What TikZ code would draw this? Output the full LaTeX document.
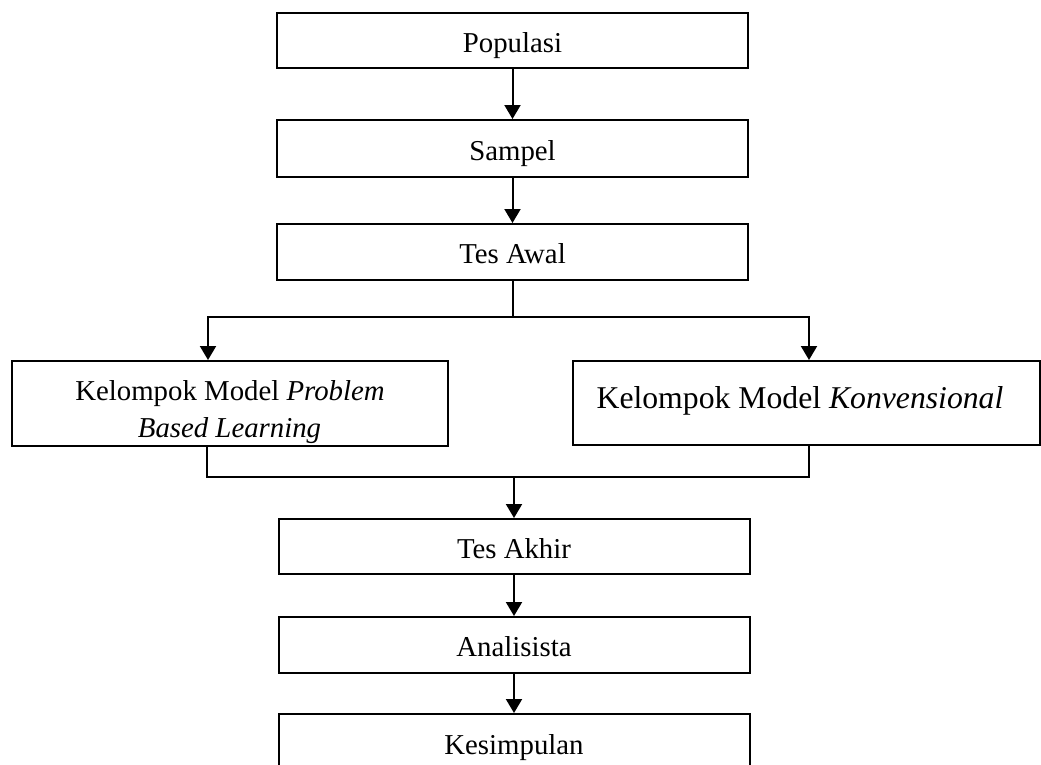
\documentclass[tikz,border=0pt]{standalone}
\usepackage{fontspec}
\setmainfont{Liberation Serif}
\usetikzlibrary{arrows.meta}
\begin{document}
\begin{tikzpicture}[x=1pt,y=-1pt,
  box/.style={draw, line width=2pt, minimum width=471pt, inner sep=0pt,
    font=\fontsize{28.8}{36}\selectfont, text height=27pt, text depth=4pt},
  lbl/.style={inner sep=0pt, anchor=base, font=\fontsize{28.8}{36}\selectfont},
  conn/.style={line width=2pt},
  arr/.style={line width=2pt, -{Triangle[length=14pt,width=16pt]}}]
\useasboundingbox (0,0) rectangle (1041,764);
\clip (0,0) rectangle (1041,764);

\node[box, minimum height=55pt] (pop) at (512.5,40.5) {Populasi};
\node[box, minimum height=57pt] (samp) at (512.5,148.5) {Sampel};
\node[box, minimum height=56pt] (awal) at (512.5,252) {Tes Awal};
\node[box, minimum width=436pt, minimum height=85pt] (pbl) at (230,403.5) {};
\node[lbl] (pbla) at (230,400) {Kelompok Model \textit{Problem}};
\node[lbl] (pblb) at (229.5,437) {\textit{Based Learning}};
\node[box, minimum width=467pt, minimum height=84pt] (konv) at (806.5,403) {};
\node[lbl, font=\fontsize{31.7}{36}\selectfont] (konvt) at (800,408)
  {Kelompok Model \textit{Konvensional}};
\node[box, minimum height=55pt] (akhir) at (514,546.5) {Tes Akhir};
\node[box, minimum height=56pt] (anal) at (514,645) {Analisista};
\node[box, minimum height=58pt] (kes) at (514,743) {Kesimpulan};

\draw[arr] (pop.south) -- (samp.north);
\draw[arr] (samp.south) -- (awal.north);

\coordinate (bl) at (208,317);
\coordinate (br) at (809,317);
\draw[conn] (awal.south) -- (awal.south |- bl);
\draw[conn, line cap=rect] (bl) -- (br);
\draw[arr] (bl) -- (pbl.north -| bl);
\draw[arr] (br) -- (konv.north -| br);

\coordinate (ml) at (207,477);
\coordinate (mr) at (809,477);
\draw[conn, line join=miter] (pbl.south -| ml) -- (ml) -- (mr) -- (konv.south -| mr);
\draw[arr] (akhir.north |- ml) -- (akhir.north);
\draw[arr] (akhir.south) -- (anal.north);
\draw[arr] (anal.south) -- (kes.north);
\end{tikzpicture}
\end{document}
